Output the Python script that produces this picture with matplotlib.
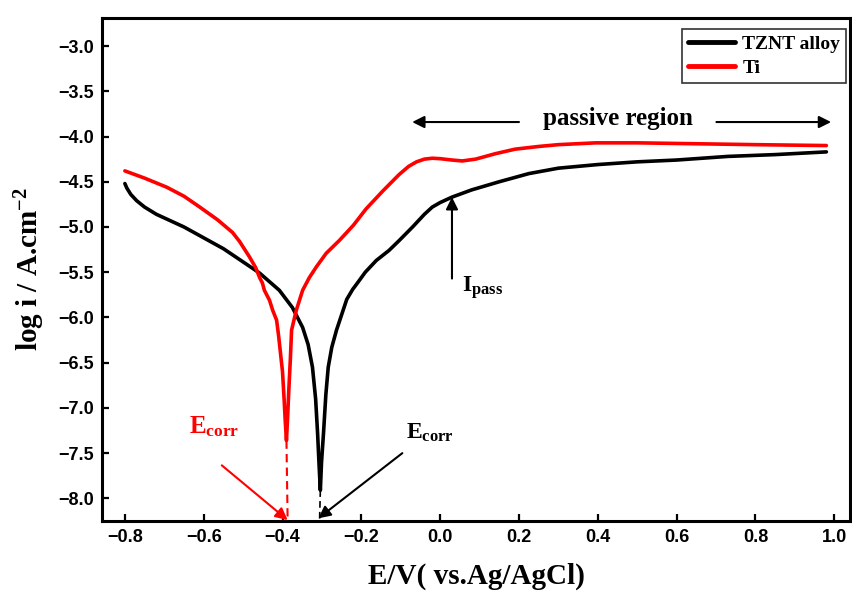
import matplotlib
matplotlib.use("Agg")
import matplotlib.pyplot as plt

plt.rcParams['font.family'] = 'Liberation Serif'
plt.rcParams['font.weight'] = 'bold'
plt.rcParams['mathtext.fontset'] = 'custom'
plt.rcParams['mathtext.rm'] = 'Liberation Serif:bold'
plt.rcParams['mathtext.it'] = 'Liberation Serif:bold'
plt.rcParams['mathtext.bf'] = 'Liberation Serif:bold'

# Potentiodynamic polarization curves, E (V vs Ag/AgCl) vs log i
tznt_E = [-0.80, -0.795, -0.785, -0.77, -0.75, -0.72, -0.69, -0.65, -0.60, -0.55,
          -0.509, -0.458, -0.408, -0.375, -0.349, -0.335, -0.324, -0.316, -0.311,
          -0.307, -0.304, -0.301, -0.296, -0.290, -0.284, -0.275, -0.263, -0.25,
          -0.237, -0.222, -0.21, -0.19, -0.162, -0.13, -0.104, -0.07, -0.04, -0.02,
          0.0, 0.03, 0.08, 0.15, 0.225, 0.30, 0.40, 0.50, 0.60, 0.73, 0.85, 0.98]
tznt_logi = [-4.52, -4.57, -4.64, -4.71, -4.78, -4.86, -4.92, -5.00, -5.12, -5.24,
             -5.36, -5.51, -5.70, -5.89, -6.11, -6.30, -6.55, -6.90, -7.28,
             -7.65, -7.91, -7.60, -7.28, -6.85, -6.55, -6.33, -6.14, -5.97,
             -5.80, -5.69, -5.62, -5.50, -5.37, -5.26, -5.15, -5.00, -4.86, -4.78,
             -4.73, -4.67, -4.59, -4.50, -4.41, -4.35, -4.31, -4.28, -4.26, -4.22, -4.20, -4.17]

ti_E = [-0.80, -0.75, -0.694, -0.65, -0.61, -0.565, -0.527, -0.509, -0.484, -0.468,
        -0.458, -0.451, -0.446, -0.433, -0.425, -0.415, -0.410, -0.405, -0.40,
        -0.396, -0.393, -0.390, -0.387, -0.384, -0.380, -0.377, -0.365, -0.349,
        -0.332, -0.314, -0.289, -0.256, -0.22, -0.188, -0.145, -0.104, -0.08,
        -0.06, -0.04, -0.02, 0.0, 0.03, 0.056, 0.09, 0.14, 0.19, 0.25, 0.30,
        0.395, 0.50, 0.648, 0.80, 0.98]
ti_logi = [-4.38, -4.46, -4.56, -4.66, -4.78, -4.92, -5.06, -5.16, -5.33, -5.45,
           -5.56, -5.62, -5.70, -5.81, -5.92, -6.03, -6.20, -6.40, -6.60,
           -6.90, -7.15, -7.36, -7.10, -6.80, -6.45, -6.14, -5.92, -5.70,
           -5.56, -5.44, -5.29, -5.15, -4.98, -4.80, -4.60, -4.42, -4.33,
           -4.28, -4.25, -4.24, -4.245, -4.26, -4.27, -4.25, -4.19, -4.14, -4.11, -4.09,
           -4.07, -4.07, -4.08, -4.09, -4.10]

ecorr_tznt, ecorr_tznt_logi = -0.304, -7.91
ecorr_ti, ecorr_ti_logi = -0.390, -7.36
ipass_E, ipass_logi = 0.03, -4.67

xticks = [-0.8, -0.6, -0.4, -0.2, 0.0, 0.2, 0.4, 0.6, 0.8, 1.0]
yticks = [-3.0, -3.5, -4.0, -4.5, -5.0, -5.5, -6.0, -6.5, -7.0, -7.5, -8.0]
ymin, ymax = -8.25, -2.69

fig = plt.figure(figsize=(8.53, 5.94), dpi=100)
ax = fig.add_axes([0.1196, 0.1229, 0.8769, 0.8468])

ax.plot(tznt_E, tznt_logi, color='black', lw=2.6, label='TZNT alloy',
        solid_capstyle='round', solid_joinstyle='round', zorder=3)
ax.plot(ti_E, ti_logi, color='red', lw=2.6, label='Ti',
        solid_capstyle='round', solid_joinstyle='round', zorder=3)

# dashed drop lines from the corrosion potentials
ax.plot([ecorr_ti, ecorr_ti + 0.003], [ecorr_ti_logi, ymin], color='red',
        lw=1.5, ls=(0, (4, 2.5)))
ax.plot([ecorr_tznt, ecorr_tznt - 0.002], [ecorr_tznt_logi, ymin], color='black',
        lw=1.2, ls=(0, (4, 2.5)))

ax.set_xlim(-0.858, 1.04)
ax.set_ylim(ymin, ymax)
ax.set_xticks(xticks)
ax.set_yticks(yticks)
ax.set_xticklabels([f'{v:.1f}'.replace('-', '\u2212') for v in xticks])
ax.set_yticklabels([f'{v:.1f}'.replace('-', '\u2212') for v in yticks])
for lab in ax.get_xticklabels() + ax.get_yticklabels():
    lab.set_fontfamily('Liberation Sans')
    lab.set_fontweight('bold')
    lab.set_fontsize(13)
ax.tick_params(direction='in', length=5, width=1.6)
ax.tick_params(axis='y', pad=6)
ax.tick_params(axis='x', pad=6)
for sp in ax.spines.values():
    sp.set_linewidth(2.2)

ax.set_xlabel('E/V( vs.Ag/AgCl)', fontsize=21, fontweight='bold', labelpad=12)
ax.set_ylabel(r'log i / A.cm$^{-2}$', fontsize=21, fontweight='bold', labelpad=8)

arrow = dict(arrowstyle='-|>', color='black', lw=1.5, mutation_scale=18,
             shrinkA=0, shrinkB=0)

# passive region arrows
ax.annotate('', xy=(-0.071, -3.84), xytext=(0.20, -3.84), arrowprops=arrow)
ax.annotate('', xy=(0.992, -3.84), xytext=(0.701, -3.84), arrowprops=arrow)
ax.text(0.451, -3.874, 'passive region', fontsize=18, fontweight='bold',
        ha='center', va='baseline')

# passivation current
ax.annotate('', xy=(ipass_E, ipass_logi), xytext=(ipass_E, -5.57), arrowprops=arrow)
ax.text(0.056, -5.72, r'$I_{pass}$', fontsize=17, ha='left', va='baseline')

# corrosion potentials
ax.annotate('', xy=(ecorr_ti + 0.003, -8.24), xytext=(-0.554, -7.635),
            arrowprops=dict(arrow, color='red'))
ax.text(-0.638, -7.28, r'$E_{corr}$', fontsize=18, color='red',
        ha='left', va='baseline')
ax.annotate('', xy=(ecorr_tznt - 0.005, -8.22), xytext=(-0.096, -7.50),
            arrowprops=arrow)
ax.text(-0.086, -7.34, r'$E_{corr}$', fontsize=17, color='black',
        ha='left', va='baseline')

leg = ax.legend(loc='upper right', bbox_to_anchor=(0.9947, 0.978),
                borderaxespad=0, fancybox=False, edgecolor='#333333',
                prop={'family': 'Liberation Serif', 'weight': 'bold', 'size': 14},
                handlelength=2.4, handletextpad=0.4, labelspacing=0.35,
                borderpad=0.3, framealpha=1)
leg.get_frame().set_linewidth(1.2)
for line in leg.get_lines():
    line.set_linewidth(3.5)

fig.savefig('out.png', dpi=100)
